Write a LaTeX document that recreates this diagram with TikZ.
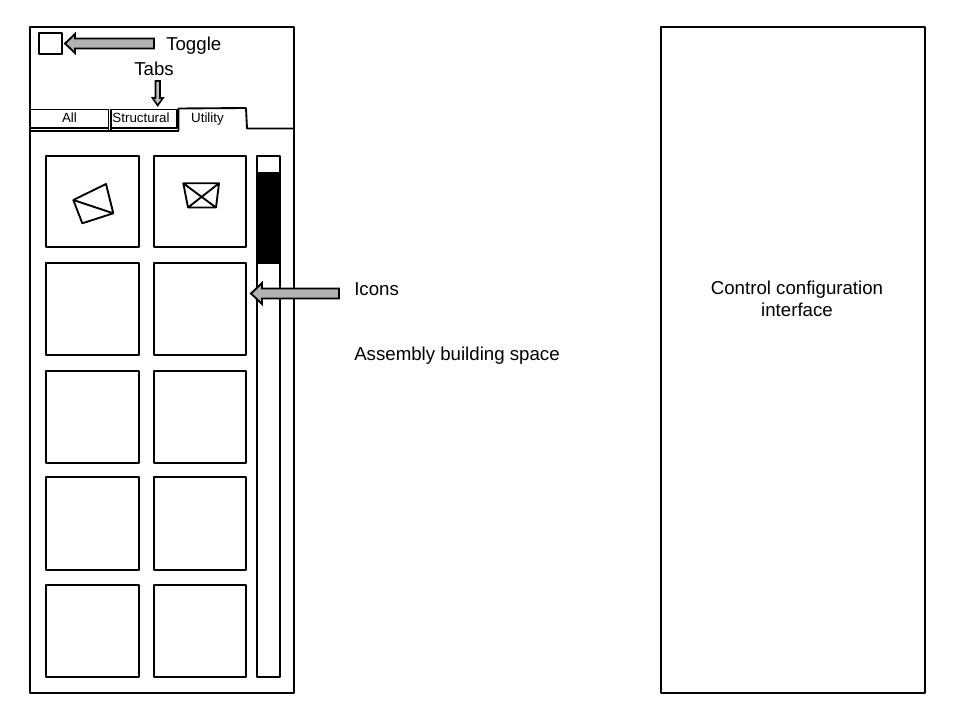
\documentclass[tikz,border=0pt]{standalone}
\usepackage{fontspec}
\setmainfont{Liberation Sans}
\tikzset{
  ln/.style={draw=black,line width=1.4pt,line join=round},
  thinln/.style={draw=black,line width=1.2pt,line join=round},
  blockarrow/.style={draw=black,line width=1.4pt,fill=black!30,line join=miter},
  biglabel/.style={font=\fontsize{14}{16.5}\selectfont,inner sep=0pt,align=center},
  tablabel/.style={font=\fontsize{10}{12}\selectfont,inner sep=0pt,anchor=base},
}
\begin{document}
\begin{tikzpicture}[x=0.75pt,y=-0.75pt]
\useasboundingbox (0,0) rectangle (960,720);
% frames
\draw[ln] (30,27) rectangle (294,693);
\draw[ln] (661,27) rectangle (925,693);
% toggle
\draw[ln] (39,33) rectangle (62,54);
% tabs
\draw[thinln] (30,109.5) rectangle (108.3,128);
\draw[thinln] (111,109.5) rectangle (177,128);
\draw[thinln] (30,131) -- (178.5,131);
\draw[thinln] (108.3,109.5) -- (108.3,131);
\draw[thinln] (111,109.5) -- (111,131);
\draw[ln] (178.5,131) -- (178.5,108.5) -- (246,108) -- (247,128.5) -- (294,128.5);
\node[tablabel] (tabAll) at (69.5,123) {All};
\node[tablabel] (tabStructural) at (141,123) {Structural};
\node[tablabel] (tabUtility) at (207.5,123) {Utility};
% icons
\foreach \yy/\yb [count=\r] in {156/247,263/355,371/463,477/570,585/677}{
  \draw[ln] (46,\yy) rectangle (139,\yb);
  \draw[ln] (154,\yy) rectangle (246,\yb);
}
% icon glyphs
\draw[ln] (73.3,200) -- (106,184) -- (113.3,213.3) -- (82.3,223.3) -- cycle (73.3,200) -- (113.3,213.3);
\draw[ln] (183.3,183.3) -- (219,183.3) -- (216,207.5) -- (188,207.5) -- cycle
  (183.3,183.3) -- (216,207.5) (219,183.3) -- (188,207.5);
% scrollbar
\draw[ln] (257,156) rectangle (280,677);
\fill[black] (256.5,172) rectangle (280.5,264);
% arrows
\draw[blockarrow] (154,38.5) -- (75,38.5) -- (75,34) -- (65,43.5) -- (75,53) -- (75,48.5) -- (154,48.5) -- cycle;
\draw[blockarrow,line width=1.2pt,fill=black!25] (155.5,81) -- (160,81) -- (160,98) -- (163,98) -- (157.7,105.5) -- (152.5,98) -- (155.5,98) -- cycle;
\draw[blockarrow] (339,288.5) -- (262,288.5) -- (262,283) -- (251,293.5) -- (262,304) -- (262,298.5) -- (339,298.5) -- cycle;
% labels
\node[biglabel,anchor=west] (toggle) at (166,45.3) {Toggle};
\node[biglabel] (tabs) at (154,69) {Tabs};
\node[biglabel,anchor=west] (icons) at (354,289) {Icons};
\node[biglabel,anchor=west] (space) at (354,355.5) {Assembly building space};
\node[biglabel] (control) at (797,299) {Control configuration\\interface};
\end{tikzpicture}
\end{document}
